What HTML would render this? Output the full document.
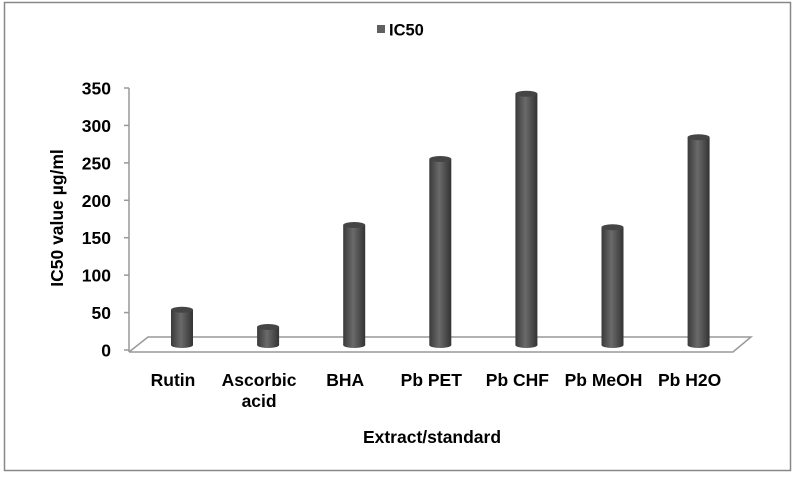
<!DOCTYPE html>
<html><head><meta charset="utf-8">
<style>
body{margin:0;background:#fff;}
svg{display:block;font-family:"Liberation Sans",Arial,sans-serif;font-weight:bold;}
</style></head>
<body>
<svg id="chart" width="796" height="477" viewBox="0 0 796 477">
<defs>
<linearGradient id="cyl" x1="0" x2="1" y1="0" y2="0">
<stop offset="0" stop-color="#3a3a3a"/>
<stop offset="0.45" stop-color="#6a6a6a"/>
<stop offset="1" stop-color="#333"/>
</linearGradient>
</defs>
<rect x="4.5" y="2.5" width="786" height="468" fill="#fff" stroke="#888" stroke-width="1.5"/>
<g>
<rect x="377" y="25" width="8" height="8" fill="#606060"/>
<text x="389" y="35.5" font-size="16.5" fill="#000">IC50</text>
</g>
<g id="floor">
<polyline points="129,352 148,337 751,337 733,352 129,352" fill="none" stroke="#999" stroke-width="1.5"/>
</g>
<line x1="129" y1="88" x2="129" y2="352" stroke="#999" stroke-width="1.5"/>
<g id="yticks"></g>
<g id="bars"></g>
<g id="xlabels"></g>
<text x="432" y="443" font-size="17.5" text-anchor="middle">Extract/standard</text>
<text transform="translate(63,218) rotate(-90)" font-size="17.5" text-anchor="middle">IC50 value µg/ml</text>
</svg>
<script>
const categories = [["Rutin"],["Ascorbic","acid"],["BHA"],["Pb PET"],["Pb CHF"],["Pb MeOH"],["Pb H2O"]];
const values = [41, 18, 154, 242, 329, 151, 271];
const tickValues = [0, 50, 100, 150, 200, 250, 300, 350];

const NS = "http://www.w3.org/2000/svg";
const yAxis = v => 350 - v * (262 / 350);
const barBase = 343.5;
const barScale = 0.75;
const barX = i => 182 + i * 86.1;

const yt = document.getElementById('yticks');
tickValues.forEach(v => {
  const y = yAxis(v);
  const t = document.createElementNS(NS, 'text');
  
  
  t.setAttribute('x', 111); t.setAttribute('y', y + 6.5);
  t.setAttribute('font-size', '17.5'); t.setAttribute('text-anchor', 'end');
  t.textContent = v;
  yt.appendChild(t);
  const l = document.createElementNS(NS, 'line');
  
  
  l.setAttribute('x1', 124); l.setAttribute('x2', 129);
  l.setAttribute('y1', y); l.setAttribute('y2', y);
  l.setAttribute('stroke', '#999'); l.setAttribute('stroke-width', '1.5');
  yt.appendChild(l);
});

const bg = document.getElementById('bars');
values.forEach((v, i) => {
  const cx = barX(i), w = 22, top = barBase - v * barScale - 3, bot = 345;
  const g = document.createElementNS(NS, 'g');
  
  
  const be = document.createElementNS(NS, 'ellipse');
  be.setAttribute('cx', cx); be.setAttribute('cy', bot); be.setAttribute('rx', w / 2); be.setAttribute('ry', 3);
  be.setAttribute('fill', 'url(#cyl)');
  g.appendChild(be);
  const r = document.createElementNS(NS, 'rect');
  r.setAttribute('x', cx - w / 2); r.setAttribute('y', top); r.setAttribute('width', w); r.setAttribute('height', bot - top);
  r.setAttribute('fill', 'url(#cyl)');
  g.appendChild(r);
  const te = document.createElementNS(NS, 'ellipse');
  te.setAttribute('cx', cx); te.setAttribute('cy', top); te.setAttribute('rx', w / 2); te.setAttribute('ry', 3);
  te.setAttribute('fill', '#454545');
  g.appendChild(te);
  bg.appendChild(g);
});

const xl = document.getElementById('xlabels');
categories.forEach((c, i) => {
  const t = document.createElementNS(NS, 'text');
  
  
  t.setAttribute('font-size', '17.5'); t.setAttribute('text-anchor', 'middle');
  c.forEach((line, k) => {
    const s = document.createElementNS(NS, 'tspan');
    s.setAttribute('x', barX(i) - 9); s.setAttribute('y', 386 + k * 21);
    s.textContent = line;
    t.appendChild(s);
  });
  xl.appendChild(t);
});
</script>
</body></html>
